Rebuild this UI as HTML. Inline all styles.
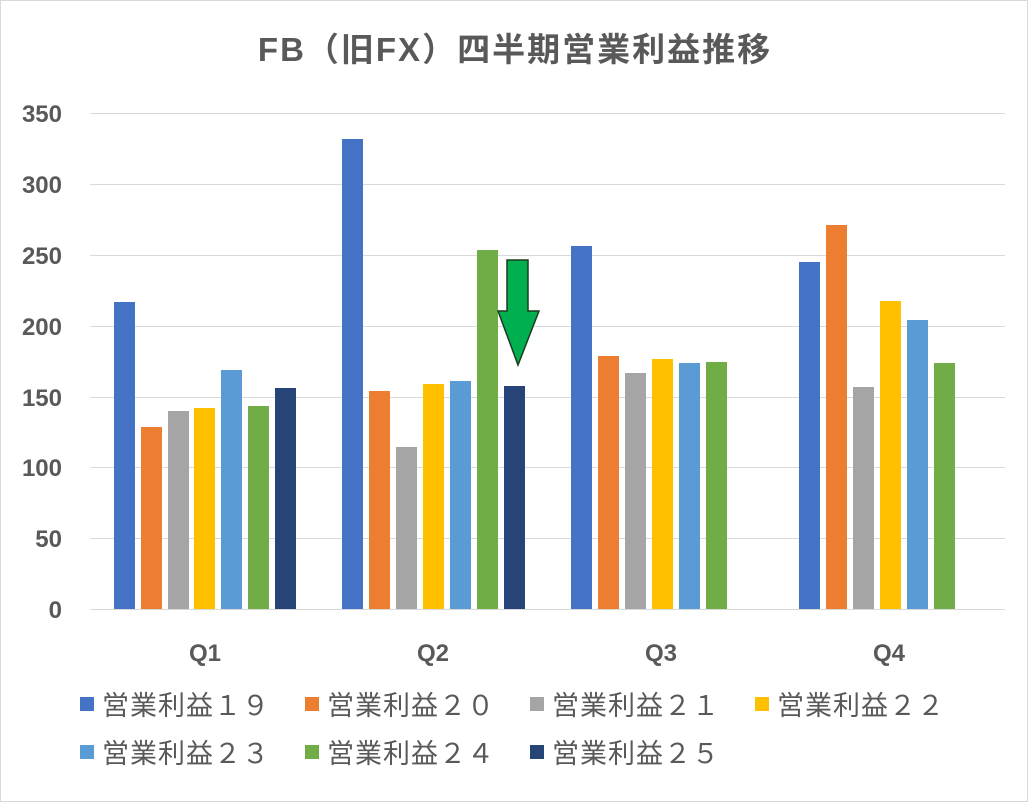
<!DOCTYPE html>
<html><head><meta charset="utf-8"><style>
html,body{margin:0;padding:0;background:#fff}
svg{display:block}
text{font-family:"Liberation Sans","Noto Sans CJK JP",sans-serif;fill:#595959}
</style></head><body>
<svg width="1029" height="803" viewBox="0 0 1029 803" xmlns="http://www.w3.org/2000/svg">
<rect x="0.5" y="0.5" width="1027" height="801" fill="#fff" stroke="#d9d9d9"/>
<text x="515" y="61" font-size="33" font-weight="bold" text-anchor="middle" letter-spacing="2">FB（旧FX）四半期営業利益推移</text>
<g stroke="#d9d9d9" stroke-width="1">
<line x1="90" y1="113.5" x2="1005" y2="113.5"/>
<line x1="90" y1="184.5" x2="1005" y2="184.5"/>
<line x1="90" y1="255.5" x2="1005" y2="255.5"/>
<line x1="90" y1="326.5" x2="1005" y2="326.5"/>
<line x1="90" y1="397.5" x2="1005" y2="397.5"/>
<line x1="90" y1="467.5" x2="1005" y2="467.5"/>
<line x1="90" y1="538.5" x2="1005" y2="538.5"/>
<line x1="90" y1="609.5" x2="1005" y2="609.5"/>
</g>
<g font-size="24" font-weight="bold" text-anchor="end">
<text x="62" y="122">350</text><text x="62" y="193">300</text><text x="62" y="264">250</text>
<text x="62" y="335">200</text><text x="62" y="406">150</text><text x="62" y="476">100</text>
<text x="62" y="547">50</text><text x="62" y="618">0</text>
</g>
<g>
<rect x="114" y="302" width="21" height="307" fill="#4472C4"/>
<rect x="141" y="427" width="21" height="182" fill="#ED7D31"/>
<rect x="168" y="411" width="21" height="198" fill="#A5A5A5"/>
<rect x="194" y="408" width="21" height="201" fill="#FFC000"/>
<rect x="221" y="370" width="21" height="239" fill="#5B9BD5"/>
<rect x="248" y="406" width="21" height="203" fill="#70AD47"/>
<rect x="275" y="388" width="21" height="221" fill="#264478"/>

<rect x="342" y="139" width="21" height="470" fill="#4472C4"/>
<rect x="369" y="391" width="21" height="218" fill="#ED7D31"/>
<rect x="396" y="447" width="21" height="162" fill="#A5A5A5"/>
<rect x="423" y="384" width="21" height="225" fill="#FFC000"/>
<rect x="450" y="381" width="21" height="228" fill="#5B9BD5"/>
<rect x="477" y="250" width="21" height="359" fill="#70AD47"/>
<rect x="504" y="386" width="21" height="223" fill="#264478"/>

<rect x="571" y="246" width="21" height="363" fill="#4472C4"/>
<rect x="598" y="356" width="21" height="253" fill="#ED7D31"/>
<rect x="625" y="373" width="21" height="236" fill="#A5A5A5"/>
<rect x="652" y="359" width="21" height="250" fill="#FFC000"/>
<rect x="679" y="363" width="21" height="246" fill="#5B9BD5"/>
<rect x="706" y="362" width="21" height="247" fill="#70AD47"/>

<rect x="799" y="262" width="21" height="347" fill="#4472C4"/>
<rect x="826" y="225" width="21" height="384" fill="#ED7D31"/>
<rect x="853" y="387" width="21" height="222" fill="#A5A5A5"/>
<rect x="880" y="301" width="21" height="308" fill="#FFC000"/>
<rect x="907" y="320" width="21" height="289" fill="#5B9BD5"/>
<rect x="934" y="363" width="21" height="246" fill="#70AD47"/>
</g>
<polygon points="507,260 528,260 528,311 539,311 518,365 498,311 507,311" fill="#00B050" stroke="#1e3a1e" stroke-width="1.5"/>
<g font-size="24" font-weight="bold" text-anchor="middle">
<text x="205" y="661">Q1</text><text x="433" y="661">Q2</text><text x="661" y="661">Q3</text><text x="889" y="661">Q4</text>
</g>
<g font-size="27">
<rect x="80" y="697" width="14" height="14" fill="#4472C4"/><text x="102" y="715" letter-spacing="1">営業利益１９</text>
<rect x="305" y="697" width="14" height="14" fill="#ED7D31"/><text x="327" y="715" letter-spacing="1">営業利益２０</text>
<rect x="530" y="697" width="14" height="14" fill="#A5A5A5"/><text x="552" y="715" letter-spacing="1">営業利益２１</text>
<rect x="755" y="697" width="14" height="14" fill="#FFC000"/><text x="777" y="715" letter-spacing="1">営業利益２２</text>
<rect x="80" y="745" width="14" height="14" fill="#5B9BD5"/><text x="102" y="763" letter-spacing="1">営業利益２３</text>
<rect x="305" y="745" width="14" height="14" fill="#70AD47"/><text x="327" y="763" letter-spacing="1">営業利益２４</text>
<rect x="530" y="745" width="14" height="14" fill="#264478"/><text x="552" y="763" letter-spacing="1">営業利益２５</text>
</g>
</svg>
</body></html>
